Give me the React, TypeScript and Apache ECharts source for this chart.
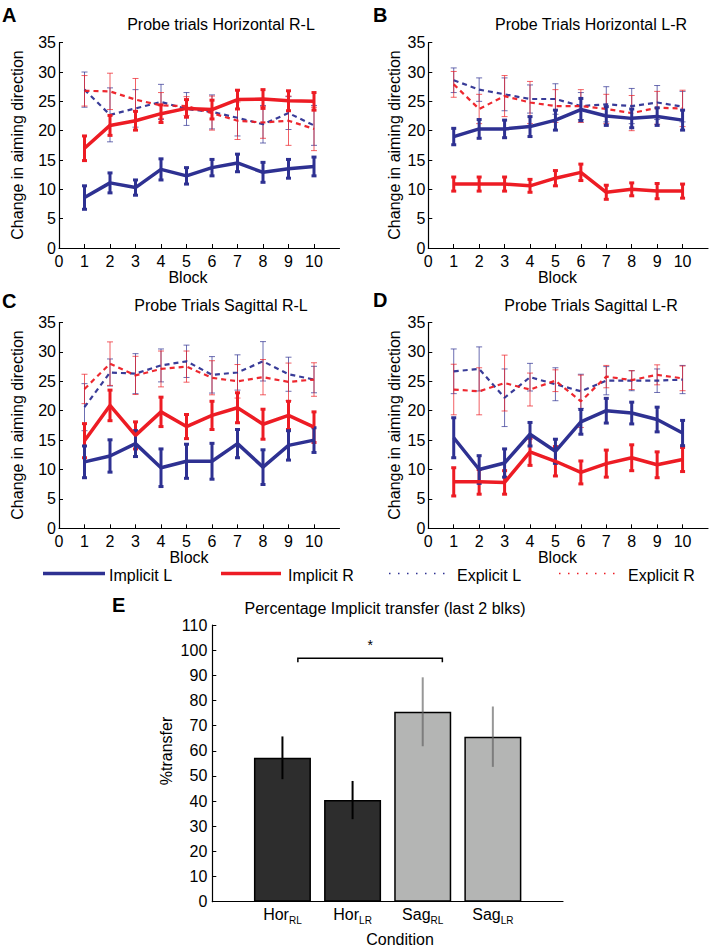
import React, { useEffect, useRef } from "react";
import * as echarts from "echarts";

// ---------- DATA ----------
const blocks = [1, 2, 3, 4, 5, 6, 7, 8, 9, 10];
const blockTicks = [0, 1, 2, 3, 4, 5, 6, 7, 8, 9, 10];

// Panel A: Probe trials Horizontal R-L
const A_impL = [8.6, 11.1, 10.3, 13.4, 12.3, 13.7, 14.5, 12.9, 13.5, 13.9];
const A_impL_err = [2.0, 1.7, 1.3, 1.8, 1.4, 1.4, 1.5, 1.7, 1.6, 1.6];
const A_impR = [17.0, 20.9, 21.7, 22.9, 23.8, 23.6, 25.3, 25.4, 25.1, 25.0];
const A_impR_err = [2.1, 1.7, 1.6, 1.5, 1.5, 1.6, 1.6, 1.6, 1.7, 1.5];
const A_expL = [27.0, 22.7, 23.8, 24.9, 23.7, 23.2, 22.2, 21.1, 23.0, 20.9];
const A_expL_err = [3.0, 4.6, 3.2, 3.0, 2.8, 2.9, 3.1, 3.2, 2.8, 3.4];
const A_expR = [26.8, 26.7, 25.3, 24.3, 24.2, 23.0, 21.7, 21.4, 21.7, 20.3];
const A_expR_err = [2.6, 3.1, 3.6, 2.2, 1.6, 2.9, 3.2, 2.7, 4.2, 3.7];

// Panel B: Probe Trials Horizontal L-R
const B_impL = [19.0, 20.3, 20.3, 20.7, 21.8, 23.6, 22.5, 22.1, 22.4, 21.8];
const B_impL_err = [1.4, 1.6, 1.5, 1.7, 1.7, 1.9, 1.6, 1.6, 1.5, 1.7];
const B_impR = [10.9, 10.9, 10.9, 10.6, 11.9, 12.9, 9.5, 10.0, 9.7, 9.7];
const B_impR_err = [1.2, 1.2, 1.2, 1.1, 1.3, 1.4, 1.2, 1.1, 1.3, 1.2];
const B_expL = [28.6, 27.0, 26.2, 25.4, 25.4, 24.2, 24.5, 24.2, 24.8, 24.1];
const B_expL_err = [2.1, 2.0, 2.8, 2.4, 2.6, 2.3, 3.0, 3.0, 2.9, 2.6];
const B_expR = [27.9, 23.7, 25.9, 24.8, 24.2, 24.2, 23.7, 23.0, 23.9, 23.8];
const B_expR_err = [2.2, 2.5, 3.5, 3.6, 2.8, 2.8, 2.5, 3.0, 2.8, 3.1];

// Panel C: Probe Trials Sagittal R-L
const C_impL = [11.3, 12.3, 14.4, 10.3, 11.4, 11.4, 14.4, 10.4, 14.1, 15.0];
const C_impL_err = [2.7, 2.75, 2.2, 3.2, 2.9, 3.05, 2.4, 2.95, 2.5, 2.1];
const C_impR = [14.9, 20.9, 15.8, 19.8, 17.3, 19.2, 20.5, 17.7, 19.2, 17.2];
const C_impR_err = [2.9, 2.6, 2.3, 2.5, 2.05, 2.4, 2.55, 2.55, 2.4, 2.6];
const C_expL = [20.6, 26.5, 26.3, 27.7, 28.4, 26.1, 26.5, 28.4, 26.2, 25.3];
const C_expL_err = [4.0, 2.3, 3.4, 2.8, 2.75, 3.1, 3.0, 3.35, 2.9, 2.25];
const C_expR = [23.7, 28.0, 26.0, 27.1, 27.5, 25.6, 25.0, 25.7, 24.9, 25.3];
const C_expR_err = [2.5, 3.7, 3.25, 3.05, 2.65, 2.9, 2.85, 3.0, 3.2, 2.85];

// Panel D: Probe Trials Sagittal L-R
const D_impL = [15.4, 10.0, 11.1, 16.0, 13.1, 18.1, 20.0, 19.6, 18.5, 16.2];
const D_impL_err = [3.4, 2.35, 2.4, 2.0, 2.05, 2.1, 2.1, 1.85, 2.1, 2.15];
const D_impR = [7.9, 7.9, 7.8, 13.0, 11.4, 9.5, 11.0, 12.0, 10.8, 11.7];
const D_impR_err = [2.4, 2.1, 2.0, 2.3, 2.5, 1.95, 2.3, 2.2, 2.2, 2.05];
const D_expL = [26.7, 27.1, 22.2, 25.7, 24.5, 23.3, 25.1, 25.1, 25.1, 25.3];
const D_expL_err = [3.8, 3.75, 4.9, 2.35, 2.8, 2.9, 2.4, 1.7, 2.0, 2.4];
const D_expR = [23.6, 23.3, 24.7, 23.6, 25.1, 21.6, 25.8, 25.2, 26.1, 25.5];
const D_expR_err = [4.3, 4.0, 4.75, 2.8, 1.85, 4.45, 1.9, 1.6, 1.7, 2.1];

// Panel E: Percentage Implicit transfer (last 2 blks)
const E_positions = [1, 2, 3, 4];
const E_names = ["Hor", "Hor", "Sag", "Sag"];
const E_subs = ["RL", "LR", "RL", "LR"];
const E_values = [57.2, 40.4, 75.5, 65.6];
const E_err = [8.5, 7.6, 13.7, 12.0];
const E_sig = [1.22, 3.28, 96.8]; // bracket from x1 to x2 at height y
const E_yTicks = [0, 10, 20, 30, 40, 50, 60, 70, 80, 90, 100, 110];

// ---------- STYLE ----------
const FONT = "'Liberation Sans', Arial, Helvetica, sans-serif";
const BLUE = "#2e3192";
const RED = "#ed1c24";
const DARK = "#2d2d2d";
const LIGHT = "#b4b5b4";

const panels = [
  { impL: A_impL, impLe: A_impL_err, impR: A_impR, impRe: A_impR_err, expL: A_expL, expLe: A_expL_err, expR: A_expR, expRe: A_expR_err },
  { impL: B_impL, impLe: B_impL_err, impR: B_impR, impRe: B_impR_err, expL: B_expL, expLe: B_expL_err, expR: B_expR, expRe: B_expR_err },
  { impL: C_impL, impLe: C_impL_err, impR: C_impR, impRe: C_impR_err, expL: C_expL, expLe: C_expL_err, expR: C_expR, expRe: C_expR_err },
  { impL: D_impL, impLe: D_impL_err, impR: D_impR, impRe: D_impR_err, expL: D_expL, expLe: D_expL_err, expR: D_expR, expRe: D_expR_err },
];

const grids = [
  { left: 59, top: 42.7, width: 280.5, height: 205.3 },
  { left: 428.3, top: 42.7, width: 279.7, height: 205.3 },
  { left: 59, top: 322.5, width: 280.5, height: 205.8 },
  { left: 428.3, top: 322.5, width: 279.7, height: 205.8 },
  { left: 212.3, top: 625, width: 350.7, height: 276.7 },
];

function errSeries(idx: number, means: number[], errs: number[], color: string, width: number, cap: number, opacity: number, z: number) {
  return {
    type: "custom",
    xAxisIndex: idx,
    yAxisIndex: idx,
    silent: true,
    z,
    encode: { x: 0, y: 1 },
    data: blocks.map((b, i) => [b, means[i], errs[i]]),
    renderItem: (params: any, api: any) => {
      const x = api.value(0);
      const m = api.value(1);
      const e = api.value(2);
      const t = api.coord([x, m + e]);
      const bt = api.coord([x, m - e]);
      const style = { stroke: color, lineWidth: width, opacity };
      return {
        type: "group",
        children: [
          { type: "line", shape: { x1: t[0], y1: t[1], x2: bt[0], y2: bt[1] }, style },
          { type: "line", shape: { x1: t[0] - cap, y1: t[1], x2: t[0] + cap, y2: t[1] }, style },
          { type: "line", shape: { x1: bt[0] - cap, y1: bt[1], x2: bt[0] + cap, y2: bt[1] }, style },
        ],
      };
    },
  };
}

function lineSeries(idx: number, vals: number[], color: string, width: number, dashed: boolean, z: number) {
  return {
    type: "line",
    xAxisIndex: idx,
    yAxisIndex: idx,
    silent: true,
    z,
    symbol: "none",
    data: blocks.map((b, i) => [b, vals[i]]),
    lineStyle: { color, width, type: dashed ? [5, 4] : "solid", opacity: dashed ? 0.95 : 1 },
  };
}

function txt(x: number, y: number, text: string, opts: any = {}) {
  return {
    type: "text",
    x,
    y,
    rotation: opts.rotation || 0,
    style: {
      text,
      fill: "#000",
      fontFamily: FONT,
      fontSize: opts.fontSize || 16,
      fontWeight: opts.fontWeight || "normal",
      align: opts.align || "center",
      verticalAlign: "middle",
    },
  };
}

export default function App() {
  const ref = useRef<HTMLDivElement>(null);

  useEffect(() => {
    if (!ref.current) return;
    const chart = echarts.init(ref.current, undefined, { renderer: "svg" });

    const axisLine = { show: true, lineStyle: { color: "#000", width: 1.2 } };
    const xAxes: any[] = [];
    const yAxes: any[] = [];
    for (let i = 0; i < 4; i++) {
      xAxes.push({
        gridIndex: i,
        type: "value",
        min: 0,
        max: 11,
        interval: 1,
        axisLine,
        axisTick: { show: true, inside: true, length: 4, customValues: blockTicks, lineStyle: { color: "#000" } },
        axisLabel: { customValues: blockTicks, color: "#000", fontFamily: FONT, fontSize: 16, margin: 5 },
        splitLine: { show: false },
      });
      yAxes.push({
        gridIndex: i,
        type: "value",
        min: 0,
        max: 35,
        interval: 5,
        axisLine,
        axisTick: { show: true, inside: true, length: 4, lineStyle: { color: "#000" } },
        axisLabel: { color: "#000", fontFamily: FONT, fontSize: 16, margin: 3 },
        splitLine: { show: false },
      });
    }
    xAxes.push({
      gridIndex: 4,
      type: "value",
      min: 0,
      max: 5,
      interval: 1,
      axisLine,
      axisTick: { show: true, inside: true, length: 4, customValues: E_positions, lineStyle: { color: "#000" } },
      axisLabel: {
        customValues: E_positions,
        margin: 2,
        formatter: (v: number) => {
          const i = E_positions.indexOf(Math.round(v));
          return i >= 0 ? `{a|${E_names[i]}}{b|${E_subs[i]}}` : "";
        },
        rich: {
          a: { fontFamily: FONT, fontSize: 16, color: "#000" },
          b: { fontFamily: FONT, fontSize: 10, color: "#000", padding: [12, 0, 0, 0] },
        },
      },
      splitLine: { show: false },
    });
    yAxes.push({
      gridIndex: 4,
      type: "value",
      min: 0,
      max: 110,
      interval: 10,
      axisLine,
      axisTick: { show: true, inside: true, length: 4, customValues: E_yTicks, lineStyle: { color: "#000" } },
      axisLabel: { color: "#000", fontFamily: FONT, fontSize: 16, margin: 5 },
      splitLine: { show: false },
    });

    const series: any[] = [];
    panels.forEach((p, i) => {
      series.push(errSeries(i, p.expL, p.expLe, BLUE, 1, 3, 0.7, 2));
      series.push(errSeries(i, p.expR, p.expRe, RED, 1, 3, 0.7, 2));
      series.push(lineSeries(i, p.expL, BLUE, 2.2, true, 3));
      series.push(lineSeries(i, p.expR, RED, 2.2, true, 3));
      series.push(errSeries(i, p.impR, p.impRe, RED, 3, 2.5, 1, 4));
      series.push(lineSeries(i, p.impR, RED, 3.5, false, 5));
      series.push(errSeries(i, p.impL, p.impLe, BLUE, 3, 2.5, 1, 4));
      series.push(lineSeries(i, p.impL, BLUE, 3.5, false, 5));
    });

    // Panel E bars
    series.push({
      type: "bar",
      xAxisIndex: 4,
      yAxisIndex: 4,
      silent: true,
      barWidth: 57,
      z: 2,
      data: E_positions.map((x, i) => ({
        value: [x, E_values[i]],
        itemStyle: { color: E_names[i] === "Hor" ? DARK : LIGHT, borderColor: "#000", borderWidth: 1.5 },
      })),
    });
    series.push({
      type: "custom",
      xAxisIndex: 4,
      yAxisIndex: 4,
      silent: true,
      z: 4,
      encode: { x: 0, y: 1 },
      data: E_positions.map((x, i) => [x, E_values[i], E_err[i], E_names[i] === "Hor" ? 1 : 0]),
      renderItem: (params: any, api: any) => {
        const x = api.value(0);
        const m = api.value(1);
        const e = api.value(2);
        const hor = api.value(3) === 1;
        const t = api.coord([x, m + e]);
        const b = api.coord([x, m - e]);
        return {
          type: "line",
          shape: { x1: t[0], y1: t[1], x2: b[0], y2: b[1] },
          style: { stroke: hor ? "#000" : "rgba(95,95,95,0.65)", lineWidth: 2 },
        };
      },
    });
    // significance bracket
    series.push({
      type: "custom",
      xAxisIndex: 4,
      yAxisIndex: 4,
      silent: true,
      z: 4,
      encode: { x: 0, y: 2 },
      data: [E_sig],
      renderItem: (params: any, api: any) => {
        const p1 = api.coord([api.value(0), api.value(2)]);
        const p2 = api.coord([api.value(1), api.value(2)]);
        const style = { stroke: "#000", lineWidth: 1.5 };
        return {
          type: "group",
          children: [
            { type: "polyline", shape: { points: [[p1[0], p1[1] + 4], p1, p2, [p2[0], p2[1] + 4]] }, style: { ...style, fill: "none" } },
            {
              type: "text",
              x: (p1[0] + p2[0]) / 2,
              y: p1[1] - 13,
              style: { text: "*", fill: "#000", fontFamily: FONT, fontSize: 14, align: "center", verticalAlign: "middle" },
            },
          ],
        };
      },
    });

    const graphic: any[] = [
      // panel letters
      txt(2, 15, "A", { fontSize: 20, fontWeight: "bold", align: "left" }),
      txt(373, 15, "B", { fontSize: 20, fontWeight: "bold", align: "left" }),
      txt(2, 301, "C", { fontSize: 20, fontWeight: "bold", align: "left" }),
      txt(373, 300, "D", { fontSize: 20, fontWeight: "bold", align: "left" }),
      txt(112, 605, "E", { fontSize: 20, fontWeight: "bold", align: "left" }),
      // titles
      txt(221, 24.5, "Probe trials Horizontal R-L"),
      txt(591, 24.5, "Probe Trials Horizontal L-R"),
      txt(221, 305, "Probe Trials Sagittal R-L"),
      txt(591, 305, "Probe Trials Sagittal L-R"),
      txt(385, 608.3, "Percentage Implicit transfer (last 2 blks)"),
      // axis names
      txt(17.7, 145, "Change in aiming direction", { rotation: Math.PI / 2 }),
      txt(394, 145, "Change in aiming direction", { rotation: Math.PI / 2 }),
      txt(17.7, 425, "Change in aiming direction", { rotation: Math.PI / 2 }),
      txt(394, 425, "Change in aiming direction", { rotation: Math.PI / 2 }),
      txt(188, 277.7, "Block"),
      txt(557.5, 277.7, "Block"),
      txt(189, 557.3, "Block"),
      txt(557.5, 557.3, "Block"),
      txt(166.7, 751, "%transfer", { rotation: Math.PI / 2 }),
      txt(400, 939, "Condition"),
      // legend
      { type: "line", shape: { x1: 43, y1: 573.5, x2: 105, y2: 573.5 }, style: { stroke: BLUE, lineWidth: 3.5 } },
      txt(109, 575, "Implicit L", { align: "left" }),
      { type: "line", shape: { x1: 221, y1: 573.5, x2: 281, y2: 573.5 }, style: { stroke: RED, lineWidth: 3.5 } },
      txt(288, 575, "Implicit R", { align: "left" }),
      { type: "line", shape: { x1: 389, y1: 573.5, x2: 450, y2: 573.5 }, style: { stroke: BLUE, lineWidth: 1.5, lineDash: [1.5, 7.5] } },
      txt(457, 575, "Explicit L", { align: "left" }),
      { type: "line", shape: { x1: 559, y1: 573.5, x2: 620, y2: 573.5 }, style: { stroke: RED, lineWidth: 1.5, lineDash: [1.5, 7.5] } },
      txt(628, 575, "Explicit R", { align: "left" }),
    ];

    chart.setOption({
      animation: false,
      backgroundColor: "#fff",
      grid: grids.map((g) => ({ ...g, containLabel: false })),
      xAxis: xAxes,
      yAxis: yAxes,
      series,
      graphic,
    });

    return () => chart.dispose();
  }, []);

  return (
    <div
      ref={ref}
      style={{ position: "fixed", left: 0, top: 0, width: 710, height: 948, background: "#fff" }}
    />
  );
}
